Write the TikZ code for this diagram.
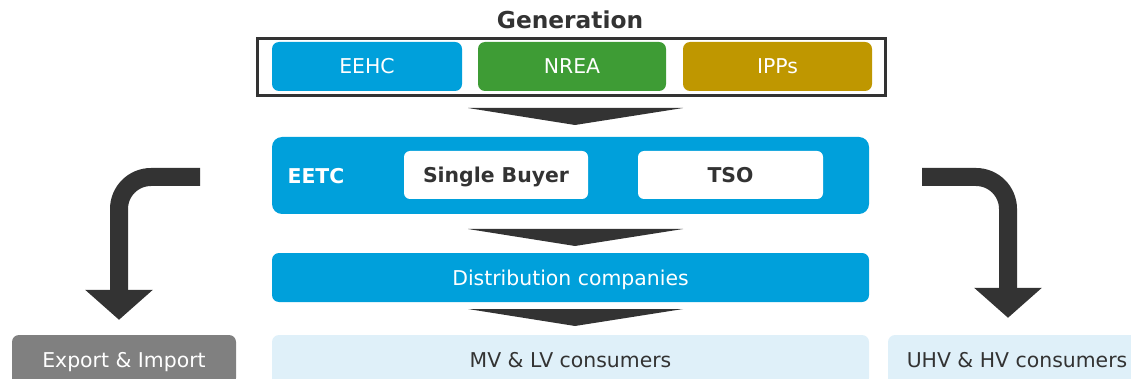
\documentclass[tikz,border=0pt]{standalone}
\usepackage{fontspec}
\setmainfont{DejaVu Sans}
\usetikzlibrary{arrows.meta}
\definecolor{egblue}{RGB}{0,160,219}
\definecolor{eggreen}{RGB}{62,156,53}
\definecolor{eggold}{RGB}{191,151,0}
\definecolor{eggray}{RGB}{128,128,128}
\definecolor{eglight}{RGB}{223,240,249}
\definecolor{egdark}{RGB}{51,51,51}
\newcommand{\chevron}[1]{\fill[egdark] #1 ++(-107,0) -- ++(215,0) -- ++(-108,17) -- cycle;}

\begin{document}
\begin{tikzpicture}[x=1pt, y=-1pt,
  box/.style={rounded corners=7pt, inner sep=0pt, text=white,
    font=\fontsize{20.4}{24}\selectfont, text height=15pt, text depth=0pt},
  bigarrow/.style={draw=egdark, line width=18pt, rounded corners=32pt,
    -{Triangle[length=30pt,width=66pt]}}]
\useasboundingbox (0,0) rectangle (1131,379);
\clip (0,0) rectangle (1131,379);

% Generation
\node[font=\bfseries\fontsize{23.3}{28}\selectfont, text=egdark, inner sep=0pt,
  text height=17pt, text depth=0pt] (gen) at (570,20.5) {Generation};
\node[draw=egdark, line width=3.3pt, minimum width=628pt, minimum height=56.6pt,
  inner sep=0pt] (genbox) at (571.5,67) {};
\node[box, fill=egblue, minimum width=190pt, minimum height=49pt] (eehc) at (367,66.5) {EEHC};
\node[box, fill=eggreen, minimum width=188pt, minimum height=49pt] (nrea) at (572,66.5) {NREA};
\node[box, fill=eggold, minimum width=189pt, minimum height=49pt] (ipps) at (777.5,66.5) {IPPs};

% Transmission
\node[box, fill=egblue, rounded corners=10pt, minimum width=597pt, minimum height=77pt] (eetc) at (570.5,175.5) {};
\node[box, font=\bfseries\fontsize{20.4}{24}\selectfont] (eetclabel) at (316,176) {EETC};
\node[box, fill=white, text=egdark, rounded corners=6pt, font=\bfseries\fontsize{20.4}{24}\selectfont,
  minimum width=184pt, minimum height=48pt] (buyer) at (496,175) {Single Buyer};
\node[box, fill=white, text=egdark, rounded corners=6pt, font=\bfseries\fontsize{20.4}{24}\selectfont,
  minimum width=185pt, minimum height=48pt] (tso) at (730.5,175) {TSO};

% Distribution and consumers
\node[box, fill=egblue, minimum width=597pt, minimum height=49pt] (dist) at (570.5,277.5) {Distribution companies};
\node[box, fill=eglight, text=egdark, minimum width=597pt, minimum height=50pt] (mvlv) at (570.5,360) {MV \& LV consumers};
\node[box, fill=eggray, minimum width=224pt, minimum height=50pt] (export) at (124,360) {Export \& Import};
\node[box, fill=eglight, text=egdark, minimum width=258pt, minimum height=50pt] (uhv) at (1017,360) {UHV \& HV consumers};

% Downward chevrons
\chevron{(575,108)}
\chevron{(575,229)}
\chevron{(575,309)}

% Side arrows
\coordinate (lstart) at (200,177);
\coordinate (rstart) at (922,177);
\draw[bigarrow] (lstart) -| ([xshift=-5pt,yshift=15pt]export.north);
\draw[bigarrow] (rstart) -| ([xshift=-9pt,yshift=17pt]uhv.north);
\end{tikzpicture}
\end{document}
